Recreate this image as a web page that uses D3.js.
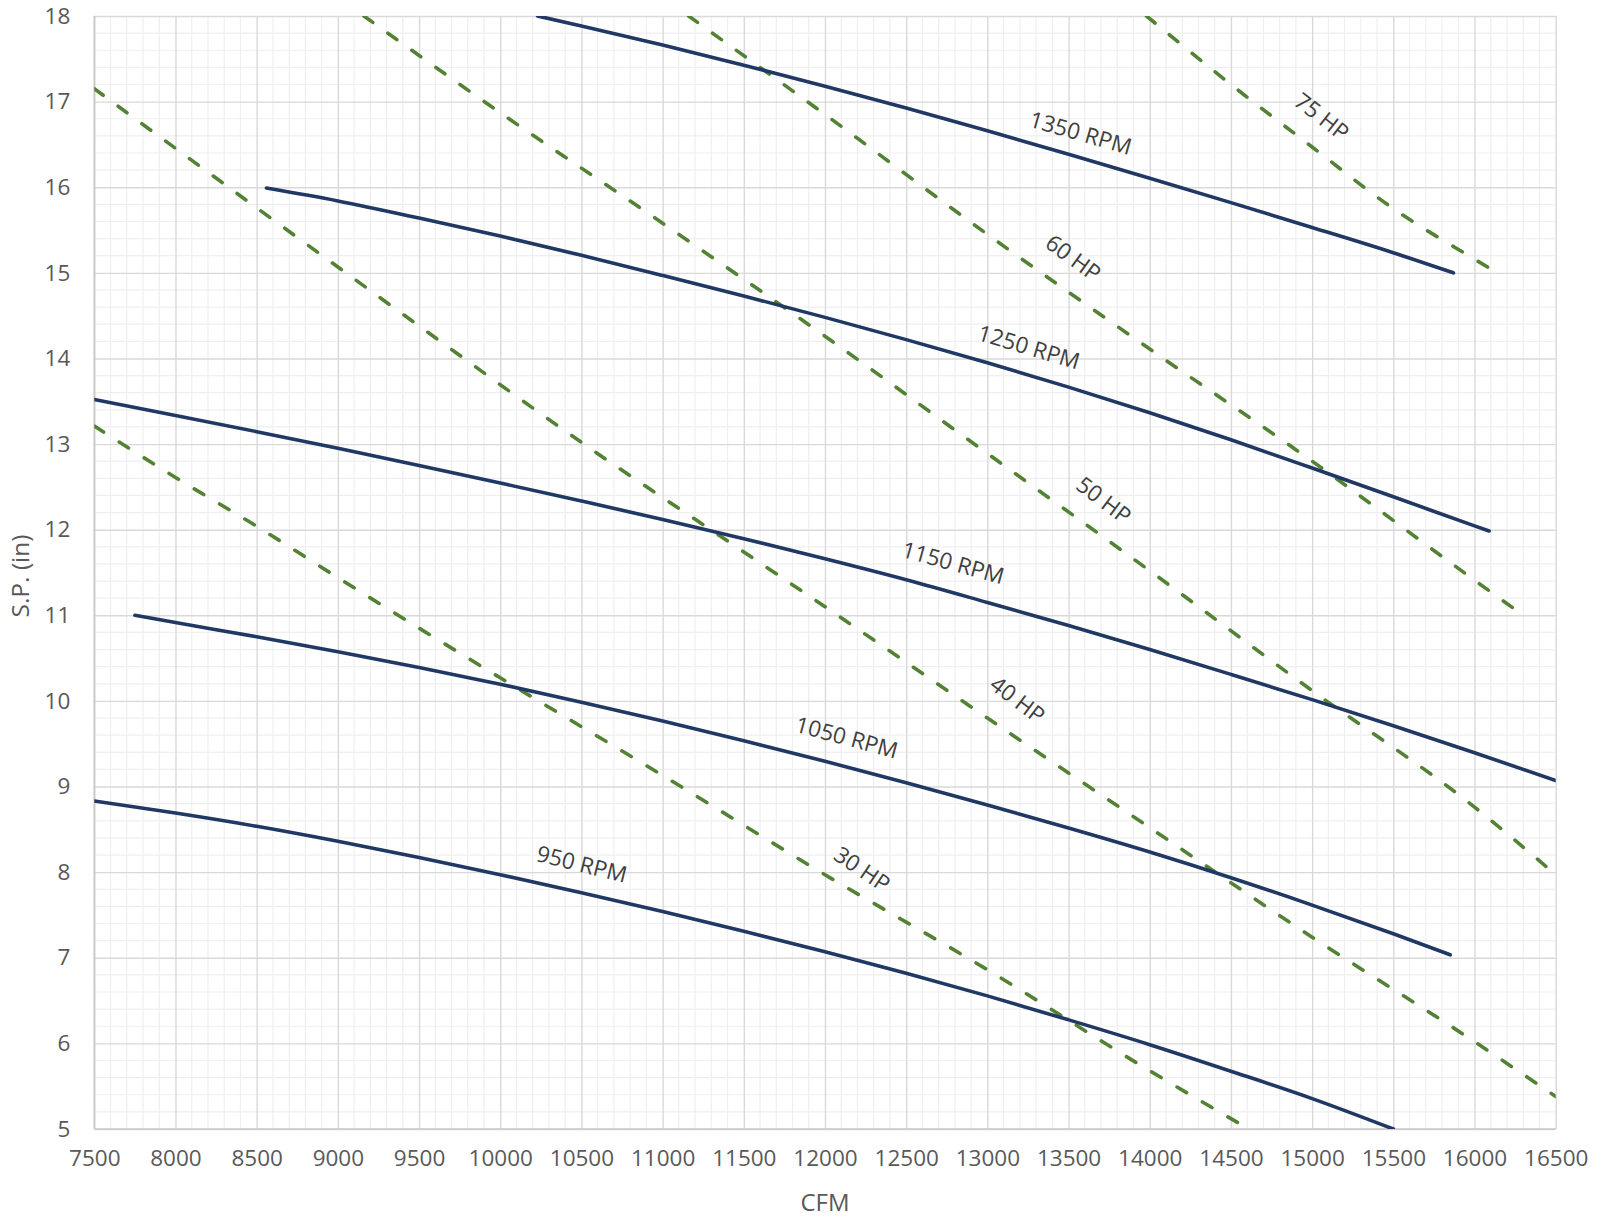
<!DOCTYPE html>
<html>
<head>
<meta charset="utf-8">
<script src="https://cdn.jsdelivr.net/npm/d3@7"></script>
<style>
  html, body { margin: 0; padding: 0; background: #ffffff; }
  svg { display: block; }
  text { font-family: "Open Sans", "Noto Sans", sans-serif; }
</style>
</head>
<body>
<svg id="chart" width="1604" height="1218"></svg>
<script>
// ---------- data ----------
// Fan RPM curves: CFM vs static pressure (in)
const rpm950Cfm  = [7500, 8000, 8500, 9000, 9500, 10000, 10500, 11000, 11500, 12000, 12500, 13000, 13500, 14000, 14500, 15000, 15500];
const rpm950Sp   = [8.83, 8.69, 8.535, 8.36, 8.17, 7.97, 7.76, 7.54, 7.31, 7.07, 6.82, 6.555, 6.275, 5.985, 5.675, 5.355, 5.0];

const rpm1050Cfm = [7750, 8000, 8500, 9000, 9500, 10000, 10500, 11000, 11500, 12000, 12500, 13000, 13500, 14000, 14500, 15000, 15500, 15850];
const rpm1050Sp  = [11.0, 10.915, 10.75, 10.575, 10.39, 10.195, 9.985, 9.765, 9.535, 9.295, 9.045, 8.785, 8.515, 8.235, 7.935, 7.615, 7.28, 7.035];

const rpm1150Cfm = [7500, 8000, 8500, 9000, 9500, 10000, 10500, 11000, 11500, 12000, 12500, 13000, 13500, 14000, 14500, 15000, 15500, 16000, 16500];
const rpm1150Sp  = [13.52, 13.335, 13.145, 12.95, 12.75, 12.545, 12.335, 12.12, 11.895, 11.66, 11.415, 11.15, 10.88, 10.60, 10.31, 10.015, 9.71, 9.395, 9.07];

const rpm1250Cfm = [8560, 9000, 9500, 10000, 10500, 11000, 11500, 12000, 12500, 13000, 13500, 14000, 14500, 15000, 15500, 16000, 16090];
const rpm1250Sp  = [15.99, 15.84, 15.64, 15.43, 15.205, 14.97, 14.73, 14.48, 14.22, 13.95, 13.665, 13.365, 13.05, 12.72, 12.385, 12.045, 11.985];

const rpm1350Cfm = [10230, 10500, 11000, 11500, 12000, 12500, 13000, 13500, 14000, 14500, 15000, 15500, 15870];
const rpm1350Sp  = [18.0, 17.884, 17.66, 17.425, 17.18, 16.925, 16.66, 16.385, 16.105, 15.82, 15.53, 15.235, 15.0];

// Horsepower lines
const hp30Cfm = [7500, 8000, 8500, 9000, 10000, 11000, 12000, 13000, 14000, 14610];
const hp30Sp  = [13.21, 12.61, 12.04, 11.44, 10.27, 9.13, 7.97, 6.86, 5.68, 5.0];

const hp40Cfm = [7500, 8500, 9500, 10500, 11500, 12000, 13000, 14000, 15000, 16000, 16500];
const hp40Sp  = [17.15, 15.76, 14.38, 13.02, 11.74, 11.10, 9.80, 8.52, 7.24, 6.02, 5.38];

const hp50Cfm = [9160, 10000, 11000, 12000, 13000, 14000, 15000, 16000, 16500];
const hp50Sp  = [18.0, 16.87, 15.58, 14.26, 12.89, 11.52, 10.12, 8.76, 7.97];

const hp60Cfm = [11160, 12000, 13000, 14000, 15000, 16000, 16300];
const hp60Sp  = [18.0, 16.85, 15.45, 14.11, 12.80, 11.41, 11.0];

const hp75Cfm = [13980, 14500, 15000, 15500, 16000, 16140];
const hp75Sp  = [18.0, 17.2, 16.47, 15.75, 15.16, 15.0];

// Axis ticks
const xTicks = [7500, 8000, 8500, 9000, 9500, 10000, 10500, 11000, 11500, 12000, 12500, 13000, 13500, 14000, 14500, 15000, 15500, 16000, 16500];
const yTicks = [5, 6, 7, 8, 9, 10, 11, 12, 13, 14, 15, 16, 17, 18];

// ---------- layout ----------
const W = 1604, H = 1218;
const plot = { left: 94.3, right: 1555.7, top: 16, bottom: 1129 };
const navy = "#203864";
const green = "#548235";

const svg = d3.select("#chart");
svg.append("rect").attr("width", W).attr("height", H).attr("fill", "#ffffff");

const x = d3.scaleLinear().domain([7500, 16500]).range([plot.left, plot.right]);
const y = d3.scaleLinear().domain([5, 18]).range([plot.bottom, plot.top]);

// minor grid
const minorX = d3.range(7500, 16501, 100).filter(v => v % 500 !== 0);
const minorY = d3.range(50, 181, 2).map(v => v / 10).filter(v => Math.abs(v - Math.round(v)) > 1e-6);

const grid = svg.append("g");
grid.selectAll("line.mx").data(minorX).join("line")
  .attr("x1", d => x(d)).attr("x2", d => x(d))
  .attr("y1", plot.top).attr("y2", plot.bottom)
  .attr("stroke", "#efefef").attr("stroke-width", 1.2);
grid.selectAll("line.my").data(minorY).join("line")
  .attr("y1", d => y(d)).attr("y2", d => y(d))
  .attr("x1", plot.left).attr("x2", plot.right)
  .attr("stroke", "#efefef").attr("stroke-width", 1.2);

// major grid via axes
const xGrid = d3.axisBottom(x).tickValues(xTicks).tickSize(-(plot.bottom - plot.top)).tickFormat("");
const yGrid = d3.axisLeft(y).tickValues(yTicks).tickSize(-(plot.right - plot.left)).tickFormat("");
svg.append("g").attr("transform", `translate(0,${plot.bottom})`).call(xGrid)
  .call(g => g.select(".domain").remove())
  .selectAll("line").attr("stroke", "#d9d9d9").attr("stroke-width", 1.4);
svg.append("g").attr("transform", `translate(${plot.left},0)`).call(yGrid)
  .call(g => g.select(".domain").remove())
  .selectAll("line").attr("stroke", "#d9d9d9").attr("stroke-width", 1.4);

// axis lines
svg.append("line").attr("x1", plot.left).attr("x2", plot.left).attr("y1", plot.top).attr("y2", plot.bottom)
  .attr("stroke", "#c8c8c8").attr("stroke-width", 1.6);
svg.append("line").attr("x1", plot.left).attr("x2", plot.right).attr("y1", plot.bottom).attr("y2", plot.bottom)
  .attr("stroke", "#c8c8c8").attr("stroke-width", 1.6);

// tick labels via axes
const xAxis = d3.axisBottom(x).tickValues(xTicks).tickSize(0).tickPadding(21).tickFormat(d3.format("d"));
const yAxis = d3.axisLeft(y).tickValues(yTicks).tickSize(0).tickPadding(24).tickFormat(d3.format("d"));
svg.append("g").attr("transform", `translate(0,${plot.bottom})`).call(xAxis)
  .call(g => g.select(".domain").remove())
  .selectAll("text").attr("fill", "#595959").attr("font-size", 22.5)
  .attr("font-family", "'Open Sans', sans-serif");
svg.append("g").attr("transform", `translate(${plot.left},0)`).call(yAxis)
  .call(g => g.select(".domain").remove())
  .selectAll("text").attr("fill", "#595959").attr("font-size", 22.5)
  .attr("font-family", "'Open Sans', sans-serif");

// axis titles
svg.append("text").attr("x", 825).attr("y", 1201).attr("text-anchor", "middle")
  .attr("dominant-baseline", "central").attr("fill", "#595959").attr("font-size", 24).text("CFM");
svg.append("text").attr("transform", "translate(19,576) rotate(-90)").attr("text-anchor", "middle")
  .attr("dominant-baseline", "central").attr("fill", "#595959").attr("font-size", 24.5).text("S.P. (in)");

// clip
svg.append("clipPath").attr("id", "clip").append("rect")
  .attr("x", plot.left).attr("y", plot.top)
  .attr("width", plot.right - plot.left).attr("height", plot.bottom - plot.top);

const line = d3.line().x(d => x(d[0])).y(d => y(d[1])).curve(d3.curveMonotoneX);
const zip = (a, b) => a.map((v, i) => [v, b[i]]);

const hpSeries = [
  zip(hp30Cfm, hp30Sp), zip(hp40Cfm, hp40Sp), zip(hp50Cfm, hp50Sp), zip(hp60Cfm, hp60Sp), zip(hp75Cfm, hp75Sp)
];
const rpmSeries = [
  zip(rpm950Cfm, rpm950Sp), zip(rpm1050Cfm, rpm1050Sp), zip(rpm1150Cfm, rpm1150Sp),
  zip(rpm1250Cfm, rpm1250Sp), zip(rpm1350Cfm, rpm1350Sp)
];

const marks = svg.append("g").attr("clip-path", "url(#clip)");
marks.selectAll("path.hp").data(hpSeries).join("path")
  .attr("class", "hp").attr("d", line).attr("fill", "none")
  .attr("stroke", green).attr("stroke-width", 3.6)
  .attr("stroke-dasharray", "11,18.5").attr("stroke-linecap", "round");
marks.selectAll("path.rpm").data(rpmSeries).join("path")
  .attr("class", "rpm").attr("d", line).attr("fill", "none")
  .attr("stroke", navy).attr("stroke-width", 3.6).attr("stroke-linecap", "round");

// annotation anchors (data units) and text angles
const labelText  = ["1350 RPM", "60 HP", "75 HP", "1250 RPM", "50 HP", "1150 RPM", "40 HP", "1050 RPM", "30 HP", "950 RPM"];
const labelCfm   = [13576, 13531, 15061, 13257, 13719, 12790, 13188, 12135, 12231, 10503];
const labelSp    = [16.64, 15.18, 16.83, 14.14, 12.35, 11.62, 10.02, 9.58, 8.04, 8.10];
const labelAngle = [16, 36, 38, 16.5, 37, 15.5, 37, 15, 34, 14];

svg.append("g").selectAll("text").data(labelText).join("text")
  .attr("transform", (d, i) => `translate(${x(labelCfm[i])},${y(labelSp[i])}) rotate(${labelAngle[i]})`)
  .attr("text-anchor", "middle").attr("dominant-baseline", "central")
  .attr("fill", "#404040").attr("font-size", 22.5).text(d => d);
</script>
</body>
</html>
